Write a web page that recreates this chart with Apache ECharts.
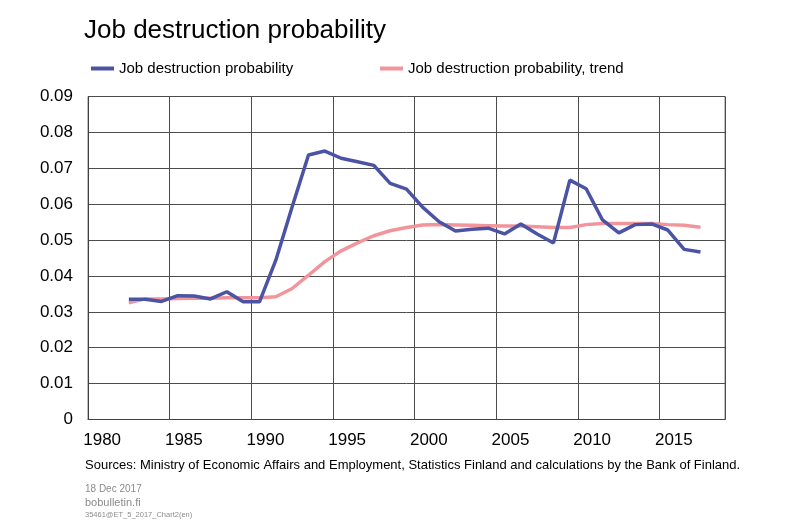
<!DOCTYPE html>
<html>
<head>
<meta charset="utf-8">
<script src="https://cdn.jsdelivr.net/npm/echarts@6/dist/echarts.min.js"></script>
<style>
  html, body { margin: 0; padding: 0; background: #fff; }
  #chart { width: 800px; height: 522px; }
</style>
</head>
<body>
<div id="chart"></div>
<script>
// years on the axis (bands), data starts 1982
const years = [];
for (let y = 1980; y <= 2018; y++) years.push(String(y));

const destruction = [null, null,
  0.0335, 0.0335, 0.0329, 0.0345, 0.0344, 0.0336, 0.0356, 0.0328, 0.0328,
  0.0444, 0.0593, 0.0737, 0.0748, 0.0728, 0.0718, 0.0708, 0.0658, 0.0642,
  0.0591, 0.0551, 0.0525, 0.0530, 0.0533, 0.0517, 0.0545, 0.0517, 0.0492,
  0.0667, 0.0643, 0.0556, 0.0520, 0.0543, 0.0545, 0.0528, 0.0474, 0.0467, null];

const trend = [null, null,
  0.0325, 0.0336, 0.0336, 0.0337, 0.0338, 0.0338, 0.0339, 0.0339, 0.0339,
  0.0342, 0.0365, 0.0402, 0.0440, 0.0470, 0.0492, 0.0512, 0.0526, 0.0535,
  0.0542, 0.0543, 0.0542, 0.0541, 0.0540, 0.0539, 0.0539, 0.0537, 0.0535,
  0.0535, 0.0543, 0.0546, 0.0546, 0.0546, 0.0546, 0.0543, 0.0541, 0.0536, null];

const yTicks = [0, 0.01, 0.02, 0.03, 0.04, 0.05, 0.06, 0.07, 0.08, 0.09];

const font = 'Liberation Sans, Arial, sans-serif';
const chart = echarts.init(document.getElementById('chart'));

chart.setOption({
  animation: false,
  title: {
    text: 'Job destruction probability',
    left: 79, top: 13,
    textStyle: { fontFamily: font, fontSize: 26, fontWeight: 'normal', color: '#000' }
  },
  legend: [
    {
      data: ['Job destruction probability'],
      left: 86, top: 56,
      itemWidth: 23, itemHeight: 4, icon: 'rect',
      textStyle: { fontFamily: font, fontSize: 15, color: '#000' }
    },
    {
      data: ['Job destruction probability, trend'],
      left: 375, top: 56,
      itemWidth: 23, itemHeight: 4, icon: 'rect',
      textStyle: { fontFamily: font, fontSize: 15, color: '#000' }
    }
  ],
  grid: {
    left: 88, right: 75, top: 96.5, bottom: 102.5,
    show: true, borderColor: '#808080', borderWidth: 1
  },
  xAxis: {
    type: 'category',
    data: years,
    boundaryGap: true,
    axisLine: { show: true, lineStyle: { color: '#404040', width: 1 } },
    axisTick: { show: false },
    splitLine: { show: true, interval: 4, lineStyle: { color: '#4d4d4d', width: 1 } },
    axisLabel: {
      interval: 4, margin: 12, color: '#000', fontFamily: font, fontSize: 17,
      padding: [0, 0, 0, 12]
    }
  },
  yAxis: {
    type: 'value',
    min: yTicks[0], max: yTicks[yTicks.length - 1], interval: 0.01,
    axisLine: { show: true, lineStyle: { color: '#404040' } },
    axisTick: { show: false },
    splitLine: { show: true, lineStyle: { color: '#4d4d4d', width: 1 } },
    axisLabel: {
      margin: 15, color: '#000', fontFamily: font, fontSize: 17,
      formatter: v => (v === 0 ? '0' : v.toFixed(2))
    }
  },
  series: [
    {
      name: 'Job destruction probability',
      type: 'line', data: destruction, showSymbol: false, symbol: 'none',
      color: '#4B54A4',
      lineStyle: { width: 3.5, color: '#4B54A4' }
    },
    {
      name: 'Job destruction probability, trend',
      type: 'line', data: trend, showSymbol: false, symbol: 'none',
      color: '#F2959B', z: 1,
      lineStyle: { width: 3.5, color: '#F2959B' }
    }
  ],
  graphic: [
    {
      type: 'text', left: 85, top: 459,
      style: {
        text: 'Sources: Ministry of Economic Affairs and Employment, Statistics Finland and calculations by the Bank of Finland.',
        font: '13px ' + font, fill: '#000'
      }
    },
    { type: 'text', left: 85, top: 484, style: { text: '18 Dec 2017', font: '10px ' + font, fill: '#8c8c8c' } },
    { type: 'text', left: 85, top: 497, style: { text: 'bobulletin.fi', font: '11px ' + font, fill: '#8c8c8c' } },
    { type: 'text', left: 85, top: 511, style: { text: '35461@ET_5_2017_Chart2(en)', font: '7.5px ' + font, fill: '#8c8c8c' } }
  ]
});
</script>
</body>
</html>
